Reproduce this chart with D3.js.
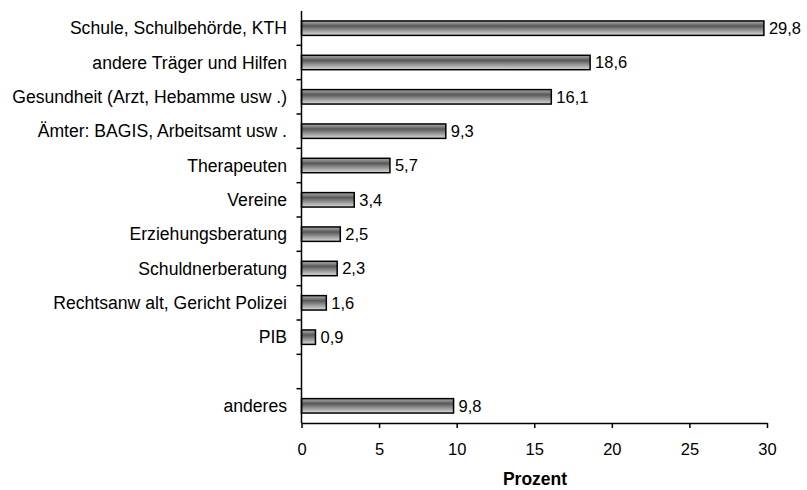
<!DOCTYPE html>
<html><head><meta charset="utf-8">
<script src="https://cdn.jsdelivr.net/npm/d3@7"></script>
<style>body{margin:0;background:#fff}</style>
</head><body>
<svg id="c" width="807" height="490"></svg>
<script>
const categories = ["Schule, Schulbehörde, KTH","andere Träger und Hilfen","Gesundheit (Arzt, Hebamme usw .)","Ämter: BAGIS, Arbeitsamt usw .","Therapeuten","Vereine","Erziehungsberatung","Schuldnerberatung","Rechtsanw alt, Gericht Polizei","PIB","","anderes"];
const values = [29.8,18.6,16.1,9.3,5.7,3.4,2.5,2.3,1.6,0.9,null,9.8];
const xTicks = [0,5,10,15,20,25,30];
const xTitle = "Prozent";

const svg = d3.select("#c");
const font = "Liberation Sans, Arial, sans-serif";
const x = d3.scaleLinear().domain([0,30]).range([301.5,767]);
const y = d3.scaleBand().domain(d3.range(categories.length)).range([11,423]).paddingInner(0.58).paddingOuter(0.29);

const defs = svg.append("defs");
const g = defs.append("linearGradient").attr("id","bg").attr("x1",0).attr("y1",0).attr("x2",0).attr("y2",1);
g.append("stop").attr("offset","0%").attr("stop-color","#b0b0b0");
g.append("stop").attr("offset","35%").attr("stop-color","#585858");
g.append("stop").attr("offset","100%").attr("stop-color","#dcdcdc");

const data = categories.map((c,i)=>({c,i,v:values[i]}));
svg.selectAll("rect.bar").data(data.filter(d=>d.v!=null)).join("rect")
  .attr("class","bar")
  .attr("x",x(0)).attr("y",d=>y(d.i))
  .attr("width",d=>x(d.v)-x(0)).attr("height",y.bandwidth())
  .attr("fill","url(#bg)").attr("stroke","#000").attr("stroke-width",1.5);

svg.selectAll("text.val").data(data.filter(d=>d.v!=null)).join("text")
  .attr("x",d=>x(d.v)+5).attr("y",d=>y(d.i)+y.bandwidth()/2)
  .attr("dy","0.35em").attr("font-family",font).attr("font-size",16.5).attr("fill","#000")
  .text(d=>d3.format(".1f")(d.v).replace(".",","));

svg.selectAll("text.cat").data(data).join("text")
  .attr("x",287).attr("y",d=>y(d.i)+y.bandwidth()/2)
  .attr("dy","0.35em").attr("text-anchor","end").attr("font-family",font).attr("font-size",17.6).attr("fill","#000")
  .text(d=>d.c);

// y axis line and ticks at band boundaries
const y0 = 11, y1 = 423;
svg.append("line").attr("x1",x(0)).attr("x2",x(0)).attr("y1",y0).attr("y2",y1).attr("stroke","#000").attr("stroke-width",1.5);
const bounds = d3.range(1,categories.length).map(i=>y0+ (y1-y0)*i/categories.length);
svg.selectAll("line.yt").data(bounds).join("line")
  .attr("x1",x(0)-5).attr("x2",x(0)).attr("y1",d=>d).attr("y2",d=>d).attr("stroke","#000").attr("stroke-width",1.5);

// x axis
const xa = svg.append("g").attr("transform",`translate(0,${y1})`)
  .call(d3.axisBottom(x).tickValues(xTicks).tickSize(5).tickSizeOuter(0).tickPadding(15));
xa.select(".domain").attr("stroke-width",1.5);
xa.selectAll(".tick line").attr("stroke-width",1.5);
xa.selectAll("text").attr("font-family",font).attr("font-size",16.5).attr("fill","#000");

svg.append("text").attr("x",535).attr("y",485).attr("text-anchor","middle")
  .attr("font-family",font).attr("font-size",17.5).attr("font-weight","bold").text(xTitle);
</script>
</body></html>
